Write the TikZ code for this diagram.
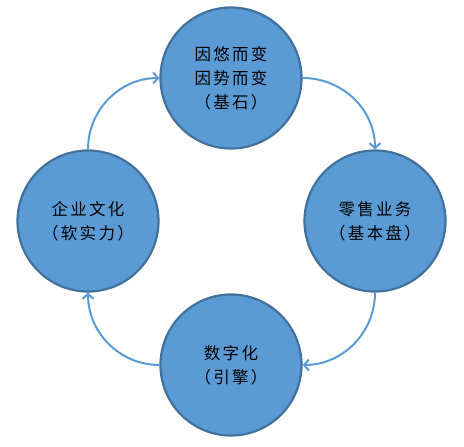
\documentclass[tikz,border=0pt]{standalone}
\usepackage{fontspec}
\newfontfamily\cjk[LetterSpace=14]{Noto Sans CJK SC}
\usetikzlibrary{arrows.meta}
\definecolor{ballblue}{HTML}{5B9BD5}
\definecolor{balledge}{HTML}{41719C}
\begin{document}
\begin{tikzpicture}[x=1pt, y=1pt,
  ball/.style={circle, fill=ballblue, draw=balledge, line width=2.2pt,
    minimum size=141pt, inner sep=0pt, align=center,
    font=\cjk\fontsize{16.5}{24}\selectfont, text=black},
  flow/.style={draw=ballblue, line width=2pt,
    -{Straight Barb[length=5pt, width=11pt, line width=2pt]}}]
\useasboundingbox (0,0) rectangle (464,447);
\node[ball] (base) at (231,369) {因悠而变\\因势而变\\（基石）};
\node[ball] (retail) at (375,226) {零售业务\\（基本盘）};
\node[ball] (digital) at (231,82) {数字化\\（引擎）};
\node[ball] (culture) at (88,226) {企业文化\\（软实力）};
\draw[flow] (base.east) to[out=0, in=90] (retail.north);
\draw[flow] (retail.south) to[out=-90, in=0] (digital.east);
\draw[flow] (digital.west) to[out=180, in=-90] (culture.south);
\draw[flow] (culture.north) to[out=90, in=180] (base.west);
\end{tikzpicture}
\end{document}
